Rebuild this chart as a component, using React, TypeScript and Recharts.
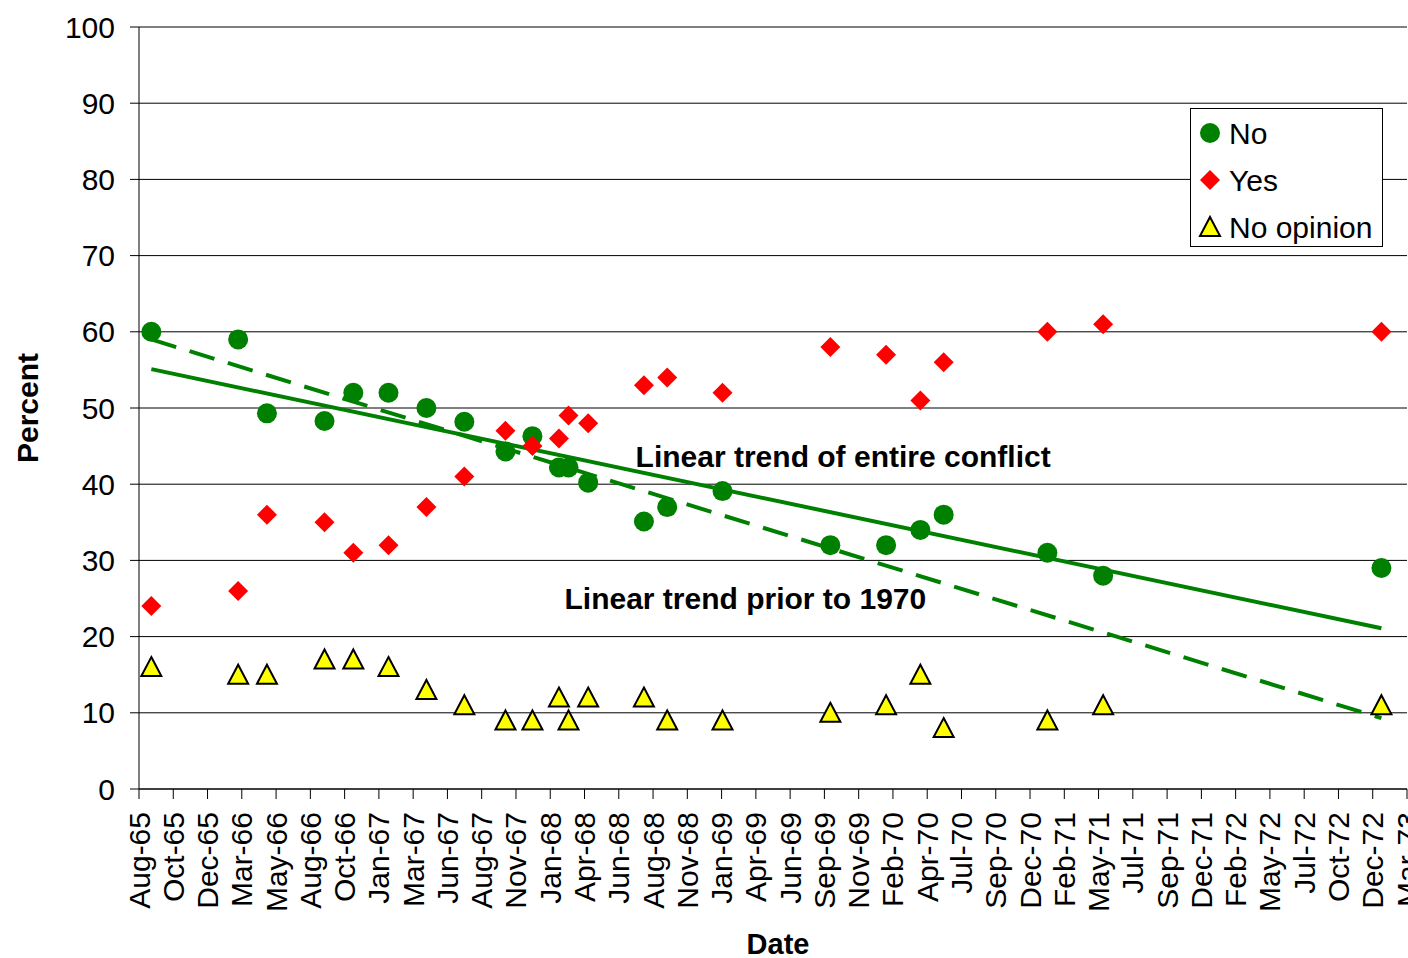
import {
  CartesianGrid,
  ComposedChart,
  Legend,
  Line,
  ReferenceDot,
  Scatter,
  XAxis,
  YAxis,
} from 'recharts'

// survey dates and percentages
const surveyDates = [
  '1965-08-28', '1966-03-06', '1966-05-08', '1966-09-11', '1966-11-13',
  '1967-01-29', '1967-04-22', '1967-07-14', '1967-10-12', '1967-12-10',
  '1968-02-06', '1968-02-27', '1968-04-10', '1968-08-10', '1968-09-30',
  '1969-01-29', '1969-09-22', '1970-01-22', '1970-04-07', '1970-05-28',
  '1971-01-10', '1971-05-12', '1973-01-10',
]
const noValues = [60, 59, 49.3, 48.3, 52, 52, 50, 48.2, 44.3, 46.3, 42.2, 42.2, 40.2, 35.1, 37, 39.1, 32, 32, 34, 36, 31, 28, 29]
const yesValues = [24, 26, 36, 35, 31, 32, 37, 41, 47, 45, 46, 49, 48, 53, 54, 52, 58, 57, 51, 56, 60, 61, 60]
const noOpinionValues = [16, 15, 15, 17, 17, 16, 13, 11, 9, 9, 12, 9, 12, 12, 9, 9, 10, 11, 15, 8, 9, 11, 11]

const tickLabels = [
  'Aug-65', 'Oct-65', 'Dec-65', 'Mar-66', 'May-66', 'Aug-66', 'Oct-66', 'Jan-67',
  'Mar-67', 'Jun-67', 'Aug-67', 'Nov-67', 'Jan-68', 'Apr-68', 'Jun-68', 'Aug-68',
  'Nov-68', 'Jan-69', 'Apr-69', 'Jun-69', 'Sep-69', 'Nov-69', 'Feb-70', 'Apr-70',
  'Jul-70', 'Sep-70', 'Dec-70', 'Feb-71', 'May-71', 'Jul-71', 'Sep-71', 'Dec-71',
  'Feb-72', 'May-72', 'Jul-72', 'Oct-72', 'Dec-72', 'Mar-73',
]
const yTicks = [0, 10, 20, 30, 40, 50, 60, 70, 80, 90, 100]

// trend line end points
const trendDates = ['1965-08-28', '1973-01-10']
const entireTrend = [55.1, 21.1]
const pre1970Trend = [59, 9.3]

const AXIS_START = Date.UTC(1965, 7, 1)
const TICK_STEP = 75 // days between date ticks
const FONT = '"Liberation Sans", Arial, sans-serif'
const GREEN = '#008000'

const toDay = (s: string) => {
  const [y, m, d] = s.split('-').map(Number)
  return (Date.UTC(y, m - 1, d) - AXIS_START) / 86400000
}

const toPoints = (dates: string[], vals: number[]) =>
  dates.map((d, i) => ({ t: toDay(d), v: vals[i] }))

const noData = toPoints(surveyDates, noValues)
const yesData = toPoints(surveyDates, yesValues)
const noOpinionData = toPoints(surveyDates, noOpinionValues)
const entireData = toPoints(trendDates, entireTrend)
const pre1970Data = toPoints(trendDates, pre1970Trend)

const xTicks = tickLabels.map((_, i) => i * TICK_STEP)

const circleShape = (p: any) => <circle cx={p.cx} cy={p.cy} r={10} fill={GREEN} />
const diamondShape = (p: any) => (
  <polygon
    points={`${p.cx},${p.cy - 10} ${p.cx + 10},${p.cy} ${p.cx},${p.cy + 10} ${p.cx - 10},${p.cy}`}
    fill="#ff0000"
  />
)
const triangleShape = (p: any) => (
  <polygon
    points={`${p.cx},${p.cy - 10} ${p.cx + 10},${p.cy + 9} ${p.cx - 10},${p.cy + 9}`}
    fill="#ffff00"
    stroke="#000"
    strokeWidth={2}
    strokeLinejoin="miter"
  />
)

function DateTick({ x, y, payload }: any) {
  const label = tickLabels[Math.round(payload.value / TICK_STEP)]
  const ty = y + 11
  return (
    <text
      x={x}
      y={ty}
      transform={`rotate(-90, ${x}, ${ty})`}
      textAnchor="end"
      dominantBaseline="central"
      fontSize={30}
      fontFamily={FONT}
      fill="#000"
    >
      {label}
    </text>
  )
}

function PercentTitle({ viewBox }: any) {
  const x = viewBox.x + 27
  const y = 408
  return (
    <text
      x={x}
      y={y}
      transform={`rotate(-90, ${x}, ${y})`}
      textAnchor="middle"
      dominantBaseline="central"
      fontSize={30}
      fontWeight="bold"
      fontFamily={FONT}
      fill="#000"
    >
      Percent
    </text>
  )
}

function DateTitle() {
  return (
    <text x={778} y={944} textAnchor="middle" dominantBaseline="central" fontSize={29} fontWeight="bold" fontFamily={FONT} fill="#000">
      Date
    </text>
  )
}

const legendItems = [
  { name: 'No', shape: circleShape },
  { name: 'Yes', shape: diamondShape },
  { name: 'No opinion', shape: triangleShape },
]

function LegendBox() {
  return (
    <svg width={193} height={139} style={{ display: 'block' }}>
      <rect x={0.5} y={0.5} width={192} height={138} fill="#fff" stroke="#000" strokeWidth={1} />
      {legendItems.map((it, i) => (
        <g key={it.name}>
          {it.shape({ cx: 20, cy: 25 + i * 47 })}
          <text x={39} y={25 + i * 47} dominantBaseline="central" fontSize={30} fontFamily={FONT} fill="#000">
            {it.name}
          </text>
        </g>
      ))}
    </svg>
  )
}

const annotationStyle = { fontSize: 30, fontWeight: 'bold', fill: '#000', fontFamily: FONT }

export default function App() {
  return (
    <div style={{ position: 'absolute', left: 0, top: 0, background: '#fff' }}>
      <ComposedChart
        width={1408}
        height={958}
        margin={{ top: 27, right: 1, bottom: 0, left: 0 }}
        style={{ fontFamily: FONT }}
      >
        <CartesianGrid vertical={false} stroke="#000" strokeWidth={1} />
        <XAxis
          type="number"
          dataKey="t"
          domain={[0, TICK_STEP * (tickLabels.length - 1)]}
          ticks={xTicks}
          interval={0}
          height={169}
          tickSize={10}
          tick={<DateTick />}
          axisLine={{ stroke: '#000' }}
          tickLine={{ stroke: '#000' }}
          label={<DateTitle />}
        />
        <YAxis
          type="number"
          domain={[0, 100]}
          ticks={yTicks}
          interval={0}
          width={139}
          tickSize={9}
          tickMargin={15}
          tick={{ fontSize: 30, fill: '#000', fontFamily: FONT }}
          axisLine={{ stroke: '#000' }}
          tickLine={{ stroke: '#000' }}
          label={<PercentTitle />}
        />
        <Line
          data={entireData}
          dataKey="v"
          stroke={GREEN}
          strokeWidth={4}
          dot={false}
          legendType="none"
          isAnimationActive={false}
        />
        <Line
          data={pre1970Data}
          dataKey="v"
          stroke={GREEN}
          strokeWidth={4}
          strokeDasharray="26 14"
          dot={false}
          legendType="none"
          isAnimationActive={false}
        />
        <Scatter name="No" data={noData} dataKey="v" shape={circleShape} isAnimationActive={false} />
        <Scatter name="Yes" data={yesData} dataKey="v" shape={diamondShape} isAnimationActive={false} />
        <Scatter name="No opinion" data={noOpinionData} dataKey="v" shape={triangleShape} isAnimationActive={false} />
        <ReferenceDot
          x={1541}
          y={43.6}
          r={0}
          fill="none"
          stroke="none"
          label={{ value: 'Linear trend of entire conflict', position: 'center', ...annotationStyle }}
        />
        <ReferenceDot
          x={1327}
          y={25}
          r={0}
          fill="none"
          stroke="none"
          label={{ value: 'Linear trend prior to 1970', position: 'center', ...annotationStyle }}
        />
        <Legend
          layout="vertical"
          align="center"
          verticalAlign="middle"
          content={() => <LegendBox />}
          wrapperStyle={{ left: 1190, top: 108, width: 193, height: 139 }}
        />
      </ComposedChart>
    </div>
  )
}
